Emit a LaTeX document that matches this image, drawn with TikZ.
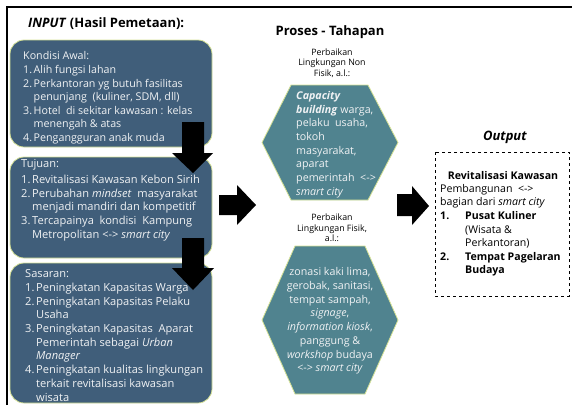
\documentclass[tikz,border=0pt]{standalone}
\usepackage{fontspec}
\setmainfont{Open Sans}
\definecolor{boxblue}{RGB}{64,94,122}
\definecolor{hexteal}{RGB}{80,131,143}
\definecolor{edgeyel}{RGB}{214,226,150}
\definecolor{lighttxt}{RGB}{240,242,244}
\newcommand{\nm}[1]{\makebox[10.5pt][l]{#1}}
\newcommand{\ind}{\hspace*{10.5pt}}
\newcommand{\nmb}[1]{\makebox[11pt][l]{#1}}
\newcommand{\indb}{\hspace*{11pt}}
\begin{document}
\begin{tikzpicture}[x=1pt,y=-1pt,
  inbox/.style={draw=edgeyel, line width=0.8pt, fill=boxblue, rounded corners=14pt},
  hexa/.style={draw=edgeyel, line width=0.8pt, fill=hexteal},
  blk/.style={fill=black},
  boxtxt/.style={anchor=north west, align=left, inner sep=0pt, text=lighttxt,
    font=\fontsize{10.7}{13.6}\selectfont},
  boxtxtb/.style={boxtxt, font=\fontsize{11.1}{13.7}\selectfont},
  outtxt/.style={anchor=north west, align=left, inner sep=0pt, text=black,
    font=\fontsize{10.6}{13.6}\selectfont},
  hextxt/.style={inner sep=0pt, text=lighttxt, font=\fontsize{10.7}{13.7}\selectfont},
  lbl/.style={inner sep=0pt, align=center, font=\fontsize{8.8}{10.5}\selectfont},
  ttl/.style={inner sep=0pt, font=\fontsize{13}{15}\selectfont\bfseries}]
\useasboundingbox (0,0) rectangle (572,405);
% frame
\draw[line width=2pt] (7,405) -- (7,7) -- (572,7);
% titles
\node[ttl, anchor=west] (tin) at (28,24) {\textit{INPUT} (Hasil Pemetaan):};
\node[ttl] (tpr) at (330,32) {Proses - Tahapan};
\node[ttl, anchor=center] (tout) at (505,137) {\textit{Output}};
% left boxes
\draw[inbox] (10,40) rectangle (212,147);
\draw[inbox] (10,157) rectangle (212,258);
\draw[inbox] (10,263) rectangle (212,403);
\node[boxtxt] (k1) at (23,51.6) {Kondisi Awal:\\
\nm{1.}Alih fungsi lahan\\
\nm{2.}Perkantoran yg butuh fasilitas\\
\ind penunjang\ \ (kuliner, SDM, dll)\\
\nm{3.}Hotel\ \ di sekitar kawasan : kelas\\
\ind menengah \& atas\\
\nm{4.}Pengangguran anak muda};
\node[boxtxtb] (k2) at (21,159.5) {Tujuan:\\[2pt]
\nmb{1.}Revitalisasi\ Kawasan Kebon Sirih\\
\nmb{2.}Perubahan \textit{mindset}\ \ masyarakat\\
\indb menjadi mandiri dan kompetitif\\
\nmb{3.}Tercapainya\ \ kondisi\ \ Kampung\\
\indb Metropolitan {<}-{>} \textit{smart city}};
\node[boxtxtb] (k3) at (25,269.5) {Sasaran:\\
\nmb{1.}Peningkatan\ Kapasitas\ Warga\\
\nmb{2.}Peningkatan\ Kapasitas\ Pelaku\\
\indb Usaha\\
\nmb{3.}Peningkatan\ Kapasitas\ \ Aparat\\
\indb Pemerintah sebagai \textit{Urban}\\
\indb \textit{Manager}\\
\nmb{4.}Peningkatan kualitas lingkungan\\
\indb terkait revitalisasi kawasan\\
\indb wisata};
% down arrows
\fill[blk] (182,122) -- (204,122) -- (204,153) -- (213,153) -- (193,173) -- (172,153) -- (182,153) -- cycle;
\fill[blk] (182,238) -- (204,238) -- (204,268) -- (214,268) -- (193,290) -- (172,268) -- (182,268) -- cycle;
% right arrows
\fill[blk] (219,195) -- (237,195) -- (237,185) -- (256,205) -- (237,225) -- (237,215) -- (219,215) -- cycle;
\fill[blk] (397,194) -- (412,194) -- (412,186) -- (429,206) -- (412,225) -- (412,216) -- (397,216) -- cycle;
% hexagon labels
\node[lbl] (l1) at (332,63) {Perbaikan\\Lingkungan Non\\Fisik, a.l.:};
\node[lbl] (l2) at (332,228) {Perbaikan\\Lingkungan Fisik,\\a.l.:};
% hexagons
\draw[hexa] (262,142.5) -- (291,85) -- (368,85) -- (398,142.5) -- (368,200) -- (291,200) -- cycle;
\draw[hexa] (262,320) -- (295,246) -- (365,246) -- (398,320) -- (365,394) -- (295,394) -- cycle;
\node[hextxt, anchor=north west, align=left] (h1) at (296,91) {\textbf{\textit{Capacity}}\\
\textbf{\textit{building}} warga,\\
pelaku\ \ usaha,\\
tokoh\\
masyarakat,\\
aparat\\
pemerintah\ \ {<}-{>}\\
\textit{smart city}};
\node[hextxt, align=center] (h2) at (330,321) {zonasi kaki lima,\\
gerobak, sanitasi,\\
tempat sampah,\\
\textit{signage},\\
\textit{information kiosk},\\
panggung \&\\
\textit{workshop} budaya\\
{<}-{>} \textit{smart city}};
% output box
\draw[dashed, line width=0.7pt] (435,152) rectangle (569,296);
\node[outtxt, anchor=north] (o0) at (503,171) {\textbf{Revitalisasi Kawasan}};
\node[outtxt] (o1) at (440,184) {Pembangunan\ \ {<}-{>}\\
bagian dari \textit{smart city}\\
\makebox[25pt][l]{\textbf{1.}}\textbf{Pusat Kuliner}\\
\hspace*{25pt}(Wisata \&\\
\hspace*{25pt}Perkantoran)\\
\makebox[25pt][l]{\textbf{2.}}\textbf{Tempat Pagelaran}\\
\hspace*{25pt}\textbf{Budaya}};
\end{tikzpicture}
\end{document}
